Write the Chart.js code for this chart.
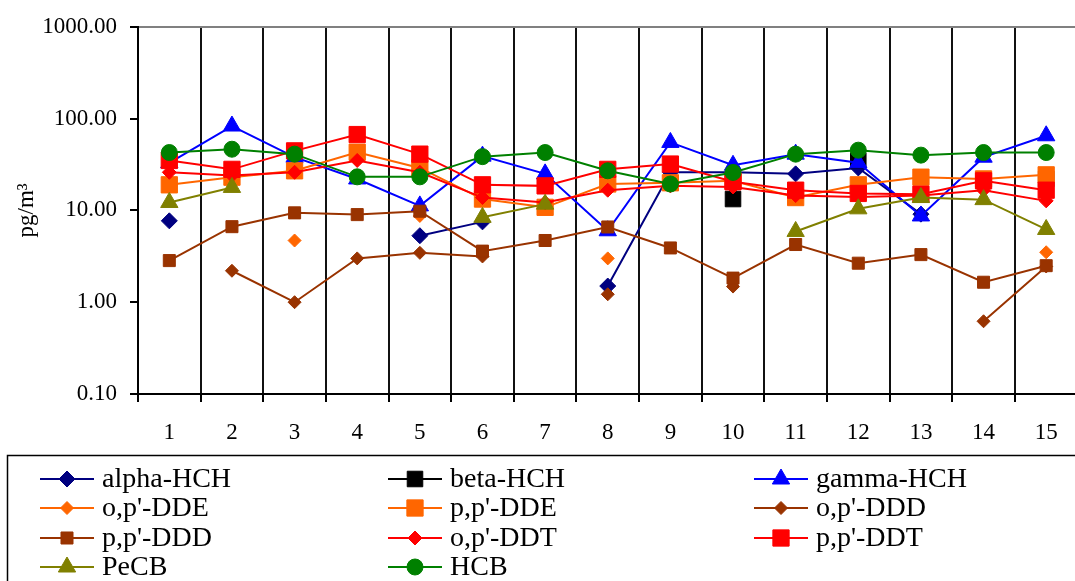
<!DOCTYPE html>
<html>
<head>
<meta charset="utf-8">
<script src="https://cdn.jsdelivr.net/npm/chart.js@4.4.1/dist/chart.umd.min.js"></script>
<style>
  html, body { margin: 0; padding: 0; background: #fff; overflow: hidden; }
  #wrap { width: 1075px; height: 581px; overflow: hidden; }
  canvas { display: block; }
</style>
</head>
<body>
<div id="wrap"><canvas id="grafico" width="1090" height="581" style="width:1090px;height:581px"></canvas></div>
<script>
const categorias = ['1','2','3','4','5','6','7','8','9','10','11','12','13','14','15'];
const yTicks = [0.1, 1, 10, 100, 1000];

const alphaHCH = [7.7, null, null, null, 5.3, 7.5, null, 1.5, 26, 26, 25, 29, 9.1, null, null];
const betaHCH  = [null, null, null, null, null, null, null, null, null, 13.3, null, 35, null, null, 22];
const gammaHCH = [33, 83, 38, 22, 11.2, 39, 25, 6.0, 55, 31, 41, 33, 8.7, 38, 65];
const opDDE    = [null, null, 4.7, null, 8.7, null, null, 3.0, null, null, null, null, null, null, 3.5];
const ppDDE    = [19, 23, 27, 43, 29, 13.3, 10.8, 19.4, 20, 21, 13.8, 19, 23, 22, 24.4];
const opDDD    = [null, 2.2, 1.0, 3.0, 3.45, 3.15, null, 1.22, null, 1.48, null, null, null, 0.62, 2.45];
const ppDDD    = [2.84, 6.65, 9.4, 9.0, 9.8, 3.6, 4.7, 6.6, 3.9, 1.83, 4.25, 2.66, 3.3, 1.65, 2.5];
const opDDT    = [26, 24, 26, 35, 26, 13.8, 12.2, 16.6, 18.5, 18, 14.5, 14, 14.5, 16.6, 12.7];
const ppDDT    = [35, 28, 44.5, 67, 41, 19, 18.5, 28, 32, 20.5, 16.6, 15.3, 15, 21, 16.6];
const PeCB     = [12.2, 17.8, null, null, null, 8.4, 11.7, null, null, null, 5.9, 10.4, 13.8, 13.1, 6.2];
const HCB      = [42.7, 46.4, 41, 23.2, 23.2, 38.5, 42.7, 27, 19.4, 25.9, 41, 45.3, 40, 42.7, 42.7];

const fonte = { family: "'Liberation Serif', 'Times New Roman', serif", size: 23 };

function serie(label, data, cor, estilo, raio) {
  return {
    label, data,
    borderColor: cor, backgroundColor: cor,
    pointBackgroundColor: cor, pointBorderColor: cor,
    pointStyle: estilo, pointRadius: raio, pointBorderWidth: 1,
    borderWidth: 2, tension: 0, spanGaps: false
  };
}

const series = [
  serie('alpha-HCH', alphaHCH, '#000080', 'rectRot', 8),
  serie('beta-HCH', betaHCH, '#000000', 'rect', 11),
  serie('gamma-HCH', gammaHCH, '#0000FF', 'triangle', 10),
  serie("o,p'-DDE", opDDE, '#FF6600', 'rectRot', 6.5),
  serie("p,p'-DDE", ppDDE, '#FF6600', 'rect', 11.5),
  serie("o,p'-DDD", opDDD, '#993300', 'rectRot', 6.5),
  serie("p,p'-DDD", ppDDD, '#993300', 'rect', 8.5),
  serie("o,p'-DDT", opDDT, '#FF0000', 'rectRot', 7),
  serie("p,p'-DDT", ppDDT, '#FF0000', 'rect', 11.5),
  serie('PeCB', PeCB, '#808000', 'triangle', 10),
  serie('HCB', HCB, '#008000', 'circle', 8)
];
// ultima serie por cima, como no Excel
series.forEach((s, i) => { s.order = series.length - i; });

// legenda desenhada a mao em 3 colunas
const legendaPlugin = {
  id: 'legendaColunas',
  afterDraw(chart) {
    const ctx = chart.ctx;
    ctx.save();
    ctx.strokeStyle = '#000';
    ctx.lineWidth = 1.5;
    ctx.strokeRect(7.5, 455.5, 1200, 200);
    const colX = [40, 388, 754];
    const linhaY = [479, 508, 538, 567];
    ctx.font = "28px 'Liberation Serif', 'Times New Roman', serif";
    ctx.textBaseline = 'middle';
    ctx.fillStyle = '#000';
    chart.data.datasets.forEach((ds, i) => {
      const x = colX[i % 3];
      const y = linhaY[Math.floor(i / 3)];
      ctx.strokeStyle = ds.borderColor;
      ctx.lineWidth = 2;
      ctx.beginPath();
      ctx.moveTo(x, y);
      ctx.lineTo(x + 54, y);
      ctx.stroke();
      ctx.fillStyle = ds.pointBackgroundColor;
      ctx.strokeStyle = ds.pointBorderColor;
      ctx.lineWidth = 1;
      Chart.helpers.drawPoint(ctx, { pointStyle: ds.pointStyle, radius: ds.pointRadius, rotation: 0, borderWidth: 1 }, x + 27, y);
      ctx.fillStyle = '#000';
      ctx.fillText(ds.label, x + 62, y + 1);
    });
    ctx.restore();
  }
};

new Chart(document.getElementById('grafico'), {
  type: 'line',
  data: { labels: categorias, datasets: series },
  plugins: [legendaPlugin],
  options: {
    responsive: false,
    animation: false,
    layout: { padding: { top: 25, left: 0, right: 4, bottom: 137 } },
    plugins: { legend: { display: false }, tooltip: { enabled: false } },
    scales: {
      x: {
        type: 'category',
        offset: true,
        grid: { offset: true, color: '#111', lineWidth: 2, tickLength: 8, tickColor: '#000' },
        border: { color: '#000', width: 2 },
        ticks: { font: fonte, color: '#000', padding: 17, maxRotation: 0, autoSkip: false },
        afterFit: s => { s.height = 50; }
      },
      y: {
        type: 'logarithmic',
        min: 0.1,
        max: 1000,
        afterBuildTicks: s => { s.ticks = yTicks.map(v => ({ value: v })); },
        ticks: { font: fonte, color: '#000', padding: 13, callback: v => Number(v).toFixed(2) },
        grid: {
          color: c => (c.tick && c.tick.value === 1000) ? '#808080' : 'rgba(0,0,0,0)',
          tickColor: '#000', tickLength: 8, lineWidth: 2
        },
        border: { color: '#000', width: 2 },
        title: { display: true, text: 'pg/m³', font: fonte, color: '#000', padding: { top: 13, bottom: 0 } },
        afterFit: s => { s.width = 138; }
      }
    }
  }
});
</script>
</body>
</html>
